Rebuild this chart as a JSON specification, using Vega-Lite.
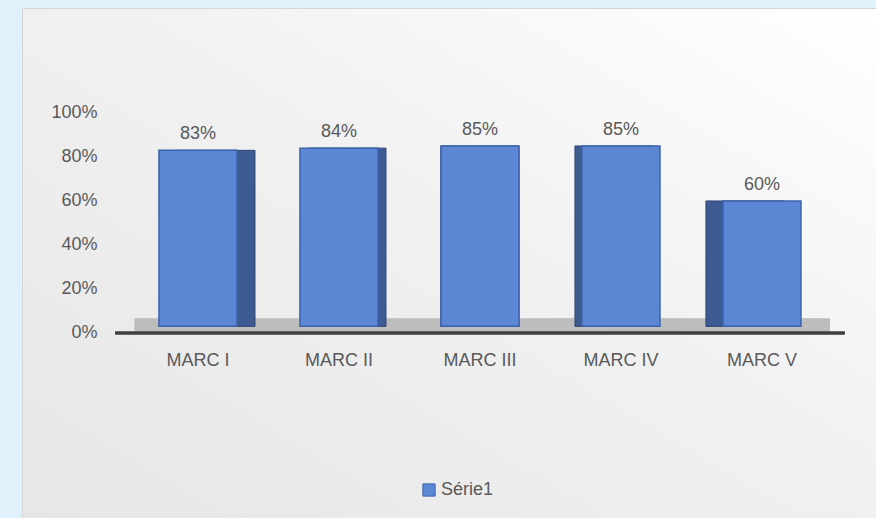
{
  "$schema": "https://vega.github.io/schema/vega-lite/v6.json",
  "width": 854,
  "height": 510,
  "autosize": {"type": "none"},
  "padding": {"left": 22, "top": 8, "right": 0, "bottom": 0},
  "background": "#dff1fb",
  "config": {
    "font": "Liberation Sans",
    "view": {
      "fill": {"gradient": "linear", "x1": 0, "y1": 1, "x2": 1, "y2": 0,
        "stops": [{"offset": 0, "color": "#e6e6e6"}, {"offset": 0.55, "color": "#f1f1f1"}, {"offset": 1, "color": "#ffffff"}]},
      "stroke": "#d6d6d6",
      "strokeWidth": 1
    }
  },
  "data": {
    "values": [
      {"cat": "MARC I", "v": 0.83, "serie": "Série1"},
      {"cat": "MARC II", "v": 0.84, "serie": "Série1"},
      {"cat": "MARC III", "v": 0.85, "serie": "Série1"},
      {"cat": "MARC IV", "v": 0.85, "serie": "Série1"},
      {"cat": "MARC V", "v": 0.60, "serie": "Série1"}
    ]
  },
  "encoding": {
    "x": {
      "field": "cat", "type": "nominal", "sort": null,
      "scale": {"domain": ["MARC I", "MARC II", "MARC III", "MARC IV", "MARC V"], "paddingInner": 0.447, "paddingOuter": 0.752, "align": 0.646},
      "axis": {"orient": "bottom", "offset": -182, "labelPadding": 15, "labelAngle": 0, "title": null, "domain": false, "ticks": false, "labelFontSize": 18, "labelColor": "#595959"}
    },
    "y": {
      "field": "v", "type": "quantitative",
      "scale": {"domain": [-0.841, 1.477], "nice": false, "zero": false},
      "axis": {"values": [0, 0.2, 0.4, 0.6, 0.8, 1], "format": ".0%", "grid": false, "domain": false, "ticks": false, "offset": -80, "labelPadding": 5, "labelFontSize": 18, "labelColor": "#595959", "title": null}
    }
  },
  "layer": [
    {
      "mark": {"type": "rect", "color": "#bdbdbd"},
      "encoding": {
        "x": {"datum": "MARC I", "bandPosition": -0.31},
        "x2": {"datum": "MARC V", "bandPosition": 1.37},
        "y": {"datum": 0},
        "y2": {"datum": 0.065}
      }
    },
    {
      "mark": {"type": "rule", "color": "#404040", "strokeWidth": 2.5},
      "encoding": {
        "x": {"datum": "MARC I", "bandPosition": -0.56},
        "x2": {"datum": "MARC V", "bandPosition": 1.56},
        "y": {"datum": 0}
      }
    },
    {
      "mark": {"type": "bar", "width": 78, "fill": "#3d5a91", "stroke": "#2c4478", "strokeWidth": 1,
        "xOffset": {"expr": "datum.cat === 'MARC I' ? 18 : datum.cat === 'MARC II' ? 8 : datum.cat === 'MARC IV' ? -7 : datum.cat === 'MARC V' ? -17 : 0"}},
      "encoding": {"y2": {"datum": 0.03}}
    },
    {
      "mark": {"type": "bar", "width": 78, "stroke": "#3b62ab", "strokeWidth": 1.5},
      "encoding": {
        "y2": {"datum": 0.03},
        "color": {
          "field": "serie", "type": "nominal",
          "scale": {"range": ["#5b87d4"]},
          "legend": {"orient": "none", "legendX": 398, "legendY": 473, "title": null, "symbolType": "square", "symbolSize": 150, "symbolStrokeColor": "#3b62ab", "symbolStrokeWidth": 1, "labelFontSize": 18, "labelColor": "#595959", "labelOffset": 3}
        }
      }
    },
    {
      "mark": {"type": "text", "dy": -11, "baseline": "alphabetic", "fontSize": 18, "color": "#595959"},
      "encoding": {"text": {"field": "v", "type": "quantitative", "format": ".0%"}}
    }
  ]
}
